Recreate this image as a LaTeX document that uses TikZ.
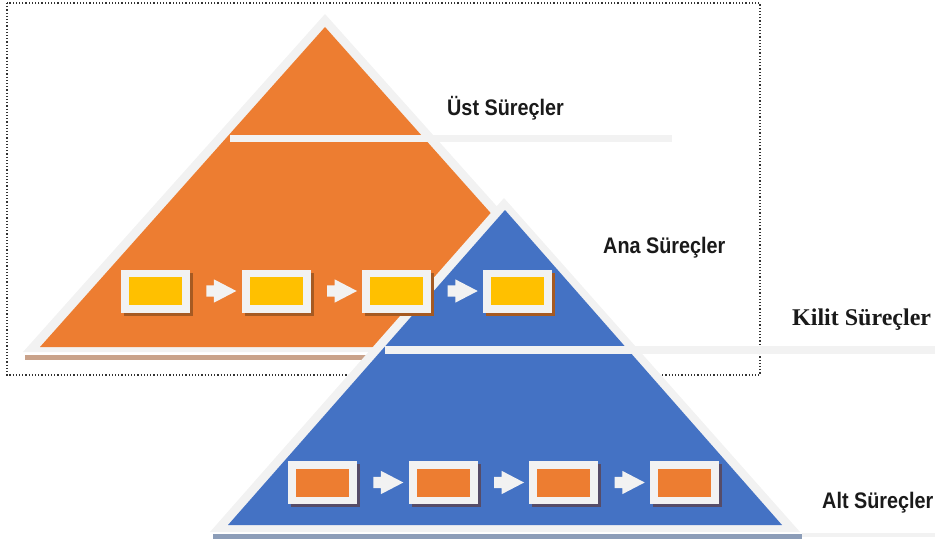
\documentclass[tikz,border=0pt]{standalone}
\usepackage{fontspec}
\newfontfamily\sanslabel[FakeStretch=0.88]{Liberation Sans}
\newfontfamily\seriflabel{Liberation Serif}
\usetikzlibrary{shapes.arrows,shadows,calc}

\definecolor{tierorange}{HTML}{ED7D31}
\definecolor{tierblue}{HTML}{4472C4}
\definecolor{taskyellow}{HTML}{FFC000}
\definecolor{rim}{HTML}{F2F2F2}
\definecolor{orangeshade}{HTML}{C9A28A}
\definecolor{blueshade}{HTML}{8C9DB8}
\definecolor{boxshadeO}{HTML}{A65A22}
\definecolor{boxshadeB}{HTML}{564C68}
\definecolor{labelink}{HTML}{1A1A1A}

\tikzset{
  procbox/.style 2 args={
    rectangle, inner sep=0pt, fill=rim,
    minimum width=69pt, minimum height=43pt,
    drop shadow={shadow xshift=3pt, shadow yshift=-3pt, fill=#2, opacity=1},
    path picture={
      \fill[#1] ($(path picture bounding box.south west)+(8pt,7.5pt)$)
        rectangle ($(path picture bounding box.north east)-(8pt,7.5pt)$);
    }
  },
  flowarrow/.style={
    single arrow, fill=rim, draw=none, inner sep=5.5pt,
    single arrow head extend=6pt, single arrow tip angle=55,
    minimum height=30pt
  },
  sanstier/.style={anchor=base west, inner sep=0pt, text=labelink,
    font=\sanslabel\bfseries\fontsize{22.5}{27}\selectfont},
  seriftier/.style={anchor=base west, inner sep=0pt, text=labelink,
    font=\seriflabel\bfseries\fontsize{24}{28}\selectfont},
  frame/.style={draw=black!80, dotted, line width=1.2pt},
  rimline/.style={draw=rim, line width=7pt}
}

\begin{document}
\begin{tikzpicture}[x=1pt,y=-1pt]
\useasboundingbox (0,0) rectangle (938,543);

% dotted frame round the upper pyramid
\draw[frame] (7,3) rectangle (760,375);

% ---- upper (orange) pyramid ----
\fill[orangeshade] (25,355) rectangle (627,360);
\fill[rim] (325,14) -- (23,352) -- (627,352) -- cycle;
\fill[tierorange] (325,27) -- (40,347) -- (610,347) -- cycle;
\draw[rimline] (230,138.5) -- (672,138.5);

% ---- lower (blue) pyramid ----
\fill[blueshade] (213,534) rectangle (802,539);
\draw[draw=rim, line width=4pt] (802,535) -- (935,535);
\fill[rim] (504,198) -- (210,532) -- (800,532) -- cycle;
\fill[tierblue] (505,210) -- (228,525) -- (782,525) -- cycle;
\draw[draw=rim, line width=7.5pt] (385,350) -- (935,350);

% ---- process chain on the upper level ----
\foreach \i/\x in {1/155.5,2/276.2,3/396.9,4/517.6}
  \node[procbox={taskyellow}{boxshadeO}] (o\i) at (\x,291) {};
\foreach \a/\b in {1/2,2/3,3/4}
  \node[flowarrow] (oa\a) at ($(o\a.east)!0.5!(o\b.west)$) {};

% ---- process chain on the lower level ----
\foreach \i/\x in {1/322.5,2/443.2,3/563.9,4/684.6}
  \node[procbox={tierorange}{boxshadeB}] (b\i) at (\x,482.5) {};
\foreach \a/\b in {1/2,2/3,3/4}
  \node[flowarrow] (ba\a) at ($(b\a.east)!0.5!(b\b.west)$) {};

% ---- level labels ----
\node[sanstier] (lust) at (447,115) {Üst Süreçler};
\node[sanstier] (lana) at (603,253) {Ana Süreçler};
\node[seriftier] (lkilit) at (792,325) {Kilit Süreçler};
\node[sanstier] (lalt) at (822,508) {Alt Süreçler};
\end{tikzpicture}
\end{document}
